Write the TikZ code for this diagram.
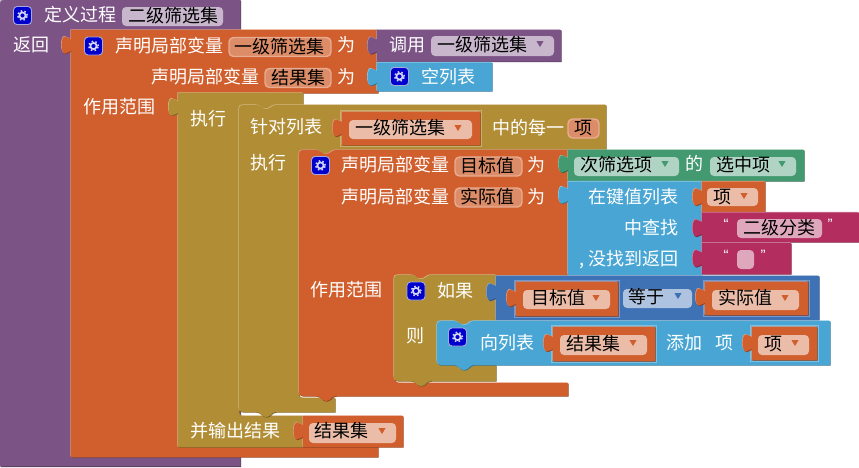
\documentclass[tikz,border=0pt]{standalone}
\usepackage{fontspec}
\setmainfont{Noto Sans CJK SC}
\newfontfamily\quotefont{Liberation Sans}
\definecolor{cpurple}{HTML}{7C5385}
\definecolor{corange}{HTML}{D05F2D}
\definecolor{cgold}{HTML}{B18E35}
\definecolor{cgreen}{HTML}{439970}
\definecolor{cblue}{HTML}{49A6D4}
\definecolor{cdeep}{HTML}{3F71B5}
\definecolor{cpink}{HTML}{B32D5E}
\definecolor{ciconbg}{HTML}{0000CC}
\definecolor{ciconln}{HTML}{A8A8E0}
\definecolor{cgear}{HTML}{D8D8F8}
\tikzset{
  wtext/.style={anchor=west,inner sep=0pt,text=white,font=\fontsize{18}{18}\selectfont,text height=15.8pt,text depth=2.2pt},
  ktext/.style={wtext,text=black},
  qtext/.style={inner sep=0pt,text=white,font=\quotefont\fontsize{15}{15}\selectfont},
  iconbox/.style={draw=ciconln,fill=ciconbg,line width=0.9pt,rounded corners=3.5pt,minimum size=18pt,inner sep=0pt},
}
% value tab on a left edge, running upward
\newcommand\vtab[2]{-- (#1,{#2+6}) .. controls ({#1-3},{#2+6}) and ({#1-3},{#2+8.5}) .. ({#1-6},{#2+8.5}) .. controls ({#1-10.5},{#2+8.5}) and ({#1-10.5},{#2-8.5}) .. ({#1-6},{#2-8.5}) .. controls ({#1-3},{#2-8.5}) and ({#1-3},{#2-6}) .. (#1,{#2-6})}
% notch in a top edge, running rightward
\newcommand\ntop[2]{-- (#1,#2) .. controls ({#1+5},#2) and ({#1+5},{#2+4}) .. ({#1+10},{#2+4}) .. controls ({#1+15},{#2+4}) and ({#1+15},#2) .. ({#1+20},#2)}
% tab under a bottom edge, running leftward, centred
\newcommand\nbot[2]{-- ({#1+10},#2) .. controls ({#1+5},#2) and ({#1+5},{#2+5}) .. (#1,{#2+5}) .. controls ({#1-5},{#2+5}) and ({#1-5},#2) .. ({#1-10},#2)}
\newcommand\blk[2]{%
  \fill[#1!62!white,shift={(-.6,-.6)}] #2;
  \fill[#1!68!black,shift={(.7,.7)}] #2;
  \fill[#1] #2;}
\newcommand\vblk[6]{% colour, x1,y1,x2,y2, tab centre
  \blk{#1}{(#2,#5) \vtab{#2}{#6} -- (#2,#3) -- (#4,#3) -- (#4,#5) -- cycle}}
\newcommand\frm[5]{\draw[#1!72!white,line width=1pt] ({#2-1.2},{#3-1.2}) rectangle ({#4+1.2},{#5+1.2});}
\newcommand\fpill[5]{\fill[#1!42!white,rounded corners=4pt] (#2,#3) rectangle (#4,#5);}
\newcommand\epill[5]{\draw[#1!52!white,fill=#1!72!white,line width=1.4pt,rounded corners=4.5pt] (#2,#3) rectangle (#4,#5);}
\newcommand\tri[3]{\fill[#1] ({#2-3.5},{#3-2.8}) -- ({#2+3.5},{#3-2.8}) -- (#2,{#3+3}) -- cycle;}
\newcommand\ico[3]{\node[iconbox] (#1) at (#2,#3) {};
  \draw[cgear,line width=1.7pt] (#1.center) circle (3.1pt);
  \draw[cgear,line width=1.5pt,dash pattern=on 1.6pt off 2.33pt] (#1.center) circle (4.9pt);}
\begin{document}
\begin{tikzpicture}[x=1pt,y=-1pt]
\useasboundingbox (0,0) rectangle (859,467);
\fill[white] (0,0) rectangle (859,467);
% procedure
\blk{cpurple}{(0,8) .. controls (0,0) .. (8,0) -- (240.5,0) -- (240.5,466.4) -- (0,466.4) -- cycle}
% outer local
\blk{corange}{(71,457) \vtab{71}{45} -- (71,30) -- (378,30) -- (378,93) -- (178,93) -- (178,444) -- (378,444) -- (378,457) -- cycle}
% call + empty list
\vblk{cpurple}{377}{30}{561}{61.5}{45.5}
\vblk{cblue}{377}{62.5}{492}{91}{77}
% do-result
\blk{cgold}{(178,447) \vtab{178}{107} -- (178,93) -- (303,93) -- (303,105) \nbot{266}{105} -- (247,105) .. controls (239,105) .. (239,113) -- (239,408) .. controls (239,416) .. (247,416) -- (303,416) -- (303,447) -- cycle}
% result value
\vblk{corange}{303}{416}{403}{447}{431}
% for each
\blk{cgold}{(239,113) .. controls (239,105) .. (247,105) \ntop{256}{105} -- (606,105) -- (606,149.5) \nbot{326}{149.5} -- (307,149.5) .. controls (299,149.5) .. (299,158) -- (299,390) .. controls (299,398) .. (307,398) -- (335,398) -- (335,412) \nbot{266}{412} -- (247,412) .. controls (239,412) .. (239,404) -- cycle}
\frm{cgold}{342}{112}{480}{145}
\vblk{corange}{342}{112}{480}{145}{128}
% inner local
\blk{corange}{(299,158) .. controls (299,150) .. (307,150) \ntop{316}{150} -- (568,150) -- (568,275) \nbot{421}{275} -- (403,275) .. controls (395,275) .. (395,283) -- (395,375) .. controls (395,383) .. (403,383) -- (568,383) -- (568,396) \nbot{326}{396} -- (307,396) .. controls (299,396) .. (299,388) -- cycle}
% green, lookup, values
\vblk{cgreen}{568}{150}{804}{181}{164}
\blk{cblue}{(568,275) \vtab{568}{195} -- (568,181.5) -- (702,181.5) -- (702,275) -- cycle}
\vblk{corange}{702}{181.5}{765}{212}{197}
\vblk{cpink}{702}{212.5}{859}{242}{228}
\vblk{cpink}{702}{243}{791}{274}{258.5}
% if
\blk{cgold}{(394,283) .. controls (394,275) .. (402,275) \ntop{411}{275} -- (496,275) -- (496,321) \nbot{464}{321} -- (445,321) .. controls (437,321) .. (437,329) -- (437,357) .. controls (437,365) .. (445,365) -- (496,365) -- (496,381) \nbot{421}{381} -- (402,381) .. controls (394,381) .. (394,373) -- cycle}
% compare
\vblk{cdeep}{496}{276}{819}{320}{292}
\frm{cdeep}{516}{282}{618}{316}
\vblk{corange}{516}{282}{618}{316}{298}
\frm{cdeep}{705}{282}{808}{315}
\vblk{corange}{705}{282}{808}{315}{297}
% add to list
\blk{cblue}{(437,329) .. controls (437,321) .. (445,321) \ntop{454}{321} -- (830,321) -- (830,365) \nbot{464}{365} -- (445,365) .. controls (437,365) .. (437,357) -- cycle}
\frm{cblue}{553}{327}{655}{361}
\vblk{corange}{553}{327}{655}{361}{343}
\frm{cblue}{752}{327}{817}{360}
\vblk{corange}{752}{327}{817}{360}{343}
% pills
\fpill{cpurple}{122}{7}{223}{26}
\epill{corange}{229}{37.5}{331}{56.5}
\epill{corange}{265}{68.5}{331}{87.5}
\fpill{cpurple}{431}{36}{554}{56}
\fpill{corange}{349}{120}{472}{139}
\epill{corange}{568}{119}{599}{138}
\epill{corange}{455}{157}{522}{176}
\epill{corange}{455}{188}{522}{207}
\fpill{cgreen}{574}{157}{679}{176}
\fpill{cgreen}{710}{157}{796}{176}
\fpill{corange}{707}{188}{758}{206}
\fpill{cpink}{737}{219}{822}{238}
\fpill{cpink}{737}{250}{754}{269}
\fpill{corange}{523}{290}{610}{309}
\fpill{cdeep}{623}{289}{692}{308}
\fpill{corange}{712}{290}{799}{310}
\fpill{corange}{560}{335}{647}{355}
\fpill{corange}{758}{335}{809}{355}
\fpill{corange}{309}{423}{396}{443}
% arrows
\tri{cpurple}{540}{44}
\tri{corange}{458}{128}
\tri{cgreen}{665}{164}
\tri{cgreen}{782}{164}
\tri{corange}{744}{196}
\tri{corange}{596}{298}
\tri{cdeep}{678}{296}
\tri{corange}{785}{298}
\tri{corange}{633}{343}
\tri{corange}{795}{343}
\tri{corange}{382}{431}
% icons
\ico{i1}{22.5}{15.5}
\ico{i2}{93.5}{46}
\ico{i3}{399.5}{76.5}
\ico{i4}{320.5}{165.5}
\ico{i5}{416}{291}
\ico{i6}{457.5}{337}
% text
\node[wtext] (t1) at (44,15) {定义过程};
\node[ktext] (t2) at (128,16) {二级筛选集};
\node[wtext] (t3) at (13,45) {返回};
\node[wtext] (t4) at (115,46) {声明局部变量};
\node[ktext] (t5) at (234,47) {一级筛选集};
\node[wtext] (t6) at (337,45) {为};
\node[wtext] (t7) at (389,45) {调用};
\node[ktext] (t8) at (437,45) {一级筛选集};
\node[wtext] (t9) at (151,77) {声明局部变量};
\node[ktext] (t10) at (271,78) {结果集};
\node[wtext] (t11) at (337,77) {为};
\node[wtext] (t12) at (421,77) {空列表};
\node[wtext] (t13) at (83,107) {作用范围};
\node[wtext] (t14) at (190,119) {执行};
\node[wtext] (t15) at (250,127) {针对列表};
\node[ktext] (t16) at (355,128) {一级筛选集};
\node[wtext] (t17) at (492,128) {中的每一};
\node[ktext] (t18) at (574,128) {项};
\node[wtext] (t19) at (250,163) {执行};
\node[wtext] (t20) at (341,165) {声明局部变量};
\node[ktext] (t21) at (460,166) {目标值};
\node[wtext] (t22) at (527,165) {为};
\node[ktext] (t23) at (580,165) {次筛选项};
\node[wtext] (t24) at (685,164) {的};
\node[ktext] (t25) at (716,165) {选中项};
\node[wtext] (t26) at (341,197) {声明局部变量};
\node[ktext] (t27) at (460,197) {实际值};
\node[wtext] (t28) at (527,197) {为};
\node[wtext,anchor=east] (t29) at (679,197) {在键值列表};
\node[ktext] (t30) at (713,197) {项};
\node[wtext,anchor=east] (t31) at (679,228) {中查找};
\node[ktext] (t32) at (743,228) {二级分类};
\node[wtext,anchor=east] (t33) at (679,259) {, 没找到返回};
\node[wtext] (t34) at (310,290) {作用范围};
\node[wtext] (t35) at (437,291) {如果};
\node[ktext] (t36) at (531,298) {目标值};
\node[ktext] (t37) at (628,297) {等于};
\node[ktext] (t38) at (718,298) {实际值};
\node[wtext] (t39) at (406,336) {则};
\node[wtext] (t40) at (480,343) {向列表};
\node[ktext] (t41) at (566,344) {结果集};
\node[wtext] (t42) at (666,343) {添加};
\node[wtext] (t43) at (715,343) {项};
\node[ktext] (t44) at (764,344) {项};
\node[wtext] (t45) at (190,431) {并输出结果};
\node[ktext] (t46) at (314,431) {结果集};
\node[qtext] (q1) at (726,224) {“};
\node[qtext] (q2) at (830,224) {”};
\node[qtext] (q3) at (726,255) {“};
\node[qtext] (q4) at (763,255) {”};
\end{tikzpicture}
\end{document}
